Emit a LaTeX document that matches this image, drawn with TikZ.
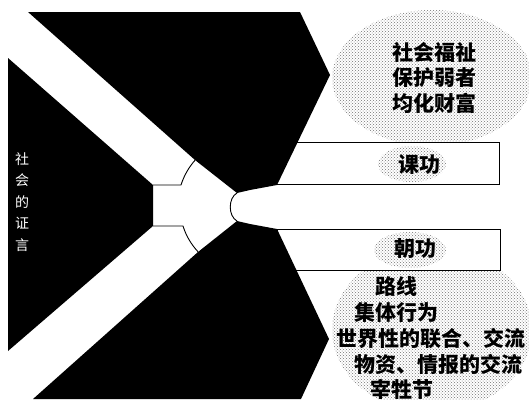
\documentclass[tikz,border=0pt]{standalone}
\usepackage{fontspec}
\usetikzlibrary{patterns}
\newfontfamily\cjk{Noto Sans CJK SC}
\begin{document}
\begin{tikzpicture}[x=1pt,y=-1pt,
  darkreg/.style={fill=black},
  halftone/.style={pattern=crosshatch dots,pattern color=black!55},
  pillarbox/.style={draw=black,line width=0.9pt,fill=white,inner sep=0pt,anchor=north west},
  lbl/.style={font=\cjk\bfseries\fontsize{21}{24}\selectfont,inner sep=0pt,text=black},
  thinline/.style={draw=black,line width=0.9pt}]
\useasboundingbox (0,0) rectangle (529,399);
\clip (0,0) rectangle (529,399);
\fill[white] (0,0) rectangle (529,399);
% halftone clouds behind the texts
\fill[halftone] (432,78) ellipse [x radius=100, y radius=68];
\fill[halftone] (432,330) ellipse [x radius=100, y radius=82];
% boxes
\node[pillarbox,minimum width=223pt,minimum height=42pt] (kebox) at (276,142) {};
\node[pillarbox,minimum width=223pt,minimum height=41pt] (chaobox) at (277,229) {};
\fill[halftone] (412,164) ellipse [x radius=34, y radius=18];
\fill[halftone] (410,250) ellipse [x radius=36, y radius=18];
% dark regions
\fill[darkreg] (28,12) -- (300,12) -- (330,75) -- (277,185) -- (250,190) -- (237,193) -- (195,160) -- cycle;
\fill[darkreg] (198,252) -- (237,221) -- (250,224) -- (277,229) -- (329,339) -- (301,399) -- (33,399) -- cycle;
\fill[darkreg] (8,58) -- (153,185) -- (153,226) -- (8,351) -- cycle;
% outlines of the white centre
\draw[thinline] (153,185) -- (181,185) arc[start angle=197.6, end angle=221.5, radius=69];
\draw[thinline] (153,226) -- (183,226) arc[start angle=162.6, end angle=136.8, radius=67];
\draw[thinline] (237,193) .. controls (228,198) and (228,216) .. (237,221);
% texts
\node[font=\cjk\fontsize{14}{21.5}\selectfont,text=white,align=center,inner sep=0pt] (shehui) at (22,202) {社\\会\\的\\证\\言};
\node[lbl] (t1) at (434.5,52) {社会福祉};
\node[lbl] (t2) at (434.5,78) {保护弱者};
\node[lbl] (t3) at (434.5,103) {均化财富};
\node[lbl] (ke) at (419,165) {课功};
\node[lbl] (chao) at (415,249) {朝功};
\node[lbl] (l1) at (396,286) {路线};
\node[lbl] (l2) at (396,312) {集体行为};
\node[lbl] (l3) at (431,339) {世界性的联合、交流};
\node[lbl] (l4) at (438,364) {物资、情报的交流};
\node[lbl] (l5) at (402,389) {宰牲节};
\end{tikzpicture}
\end{document}
